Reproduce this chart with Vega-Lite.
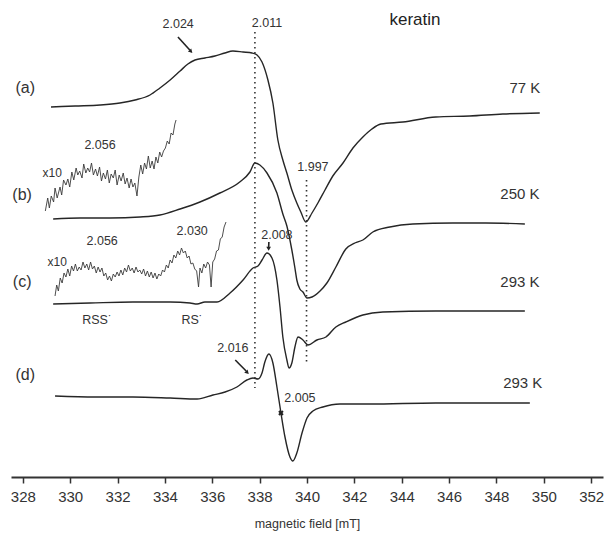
{
  "$schema": "https://vega.github.io/schema/vega-lite/v6.json",
  "width": 592,
  "height": 477,
  "autosize": {"type": "none"},
  "padding": {"left": 11, "top": 0, "right": 3, "bottom": 58},
  "background": "white",
  "config": {"view": {"stroke": null}, "font": "Liberation Sans"},
  "datasets": {
    "spectra": [
      {"B": 329.19, "signal": 37.0, "trace": "a"},
      {"B": 330.21, "signal": 37.1, "trace": "a"},
      {"B": 331.26, "signal": 37.2, "trace": "a"},
      {"B": 332.10, "signal": 37.4, "trace": "a"},
      {"B": 332.74, "signal": 37.7, "trace": "a"},
      {"B": 333.37, "signal": 38.2, "trace": "a"},
      {"B": 333.79, "signal": 38.9, "trace": "a"},
      {"B": 334.22, "signal": 39.7, "trace": "a"},
      {"B": 334.64, "signal": 40.6, "trace": "a"},
      {"B": 334.97, "signal": 41.3, "trace": "a"},
      {"B": 335.27, "signal": 41.7, "trace": "a"},
      {"B": 335.69, "signal": 41.9, "trace": "a"},
      {"B": 336.11, "signal": 42.1, "trace": "a"},
      {"B": 336.53, "signal": 42.4, "trace": "a"},
      {"B": 336.87, "signal": 42.6, "trace": "a"},
      {"B": 337.30, "signal": 42.5, "trace": "a"},
      {"B": 337.68, "signal": 42.4, "trace": "a"},
      {"B": 337.89, "signal": 42.2, "trace": "a"},
      {"B": 338.10, "signal": 41.5, "trace": "a"},
      {"B": 338.35, "signal": 39.7, "trace": "a"},
      {"B": 338.56, "signal": 37.4, "trace": "a"},
      {"B": 338.77, "signal": 33.7, "trace": "a"},
      {"B": 338.98, "signal": 31.7, "trace": "a"},
      {"B": 339.15, "signal": 30.4, "trace": "a"},
      {"B": 339.36, "signal": 28.7, "trace": "a"},
      {"B": 339.57, "signal": 27.4, "trace": "a"},
      {"B": 339.74, "signal": 26.5, "trace": "a"},
      {"B": 339.95, "signal": 25.5, "trace": "a"},
      {"B": 340.21, "signal": 26.4, "trace": "a"},
      {"B": 340.46, "signal": 27.4, "trace": "a"},
      {"B": 340.76, "signal": 28.7, "trace": "a"},
      {"B": 341.09, "signal": 30.1, "trace": "a"},
      {"B": 341.52, "signal": 31.4, "trace": "a"},
      {"B": 341.94, "signal": 32.9, "trace": "a"},
      {"B": 342.36, "signal": 34.0, "trace": "a"},
      {"B": 342.74, "signal": 34.8, "trace": "a"},
      {"B": 343.12, "signal": 35.3, "trace": "a"},
      {"B": 344.05, "signal": 35.5, "trace": "a"},
      {"B": 345.44, "signal": 36.0, "trace": "a"},
      {"B": 346.87, "signal": 36.1, "trace": "a"},
      {"B": 348.27, "signal": 36.3, "trace": "a"},
      {"B": 349.83, "signal": 36.4, "trace": "a"},

      {"B": 329.28, "signal": 25.8, "trace": "b"},
      {"B": 330.42, "signal": 25.9, "trace": "b"},
      {"B": 331.68, "signal": 25.9, "trace": "b"},
      {"B": 332.95, "signal": 26.0, "trace": "b"},
      {"B": 333.79, "signal": 26.2, "trace": "b"},
      {"B": 334.64, "signal": 26.8, "trace": "b"},
      {"B": 335.48, "signal": 27.5, "trace": "b"},
      {"B": 336.32, "signal": 28.4, "trace": "b"},
      {"B": 337.16, "signal": 29.5, "trace": "b"},
      {"B": 337.59, "signal": 30.5, "trace": "b"},
      {"B": 337.80, "signal": 31.4, "trace": "b"},
      {"B": 338.01, "signal": 31.2, "trace": "b"},
      {"B": 338.31, "signal": 30.4, "trace": "b"},
      {"B": 338.73, "signal": 28.4, "trace": "b"},
      {"B": 338.98, "signal": 26.3, "trace": "b"},
      {"B": 339.15, "signal": 25.1, "trace": "b"},
      {"B": 339.36, "signal": 22.7, "trace": "b"},
      {"B": 339.49, "signal": 20.9, "trace": "b"},
      {"B": 339.57, "signal": 19.7, "trace": "b"},
      {"B": 339.70, "signal": 18.8, "trace": "b"},
      {"B": 339.83, "signal": 18.5, "trace": "b"},
      {"B": 340.00, "signal": 17.9, "trace": "b"},
      {"B": 340.21, "signal": 18.0, "trace": "b"},
      {"B": 340.55, "signal": 18.6, "trace": "b"},
      {"B": 340.84, "signal": 19.4, "trace": "b"},
      {"B": 341.22, "signal": 21.0, "trace": "b"},
      {"B": 341.64, "signal": 22.8, "trace": "b"},
      {"B": 342.02, "signal": 23.4, "trace": "b"},
      {"B": 342.36, "signal": 23.7, "trace": "b"},
      {"B": 342.78, "signal": 24.5, "trace": "b"},
      {"B": 343.50, "signal": 25.0, "trace": "b"},
      {"B": 344.47, "signal": 25.3, "trace": "b"},
      {"B": 346.16, "signal": 25.4, "trace": "b"},
      {"B": 347.55, "signal": 25.4, "trace": "b"},
      {"B": 349.20, "signal": 25.3, "trace": "b"},

      {"B": 329.28, "signal": 17.3, "trace": "c"},
      {"B": 330.84, "signal": 17.4, "trace": "c"},
      {"B": 332.65, "signal": 17.5, "trace": "c"},
      {"B": 334.22, "signal": 17.5, "trace": "c"},
      {"B": 335.06, "signal": 17.4, "trace": "c"},
      {"B": 335.36, "signal": 17.3, "trace": "c"},
      {"B": 335.69, "signal": 17.5, "trace": "c"},
      {"B": 336.20, "signal": 17.5, "trace": "c"},
      {"B": 336.75, "signal": 18.4, "trace": "c"},
      {"B": 337.30, "signal": 19.7, "trace": "c"},
      {"B": 337.72, "signal": 20.9, "trace": "c"},
      {"B": 337.93, "signal": 21.1, "trace": "c"},
      {"B": 338.10, "signal": 21.7, "trace": "c"},
      {"B": 338.31, "signal": 22.4, "trace": "c"},
      {"B": 338.52, "signal": 21.9, "trace": "c"},
      {"B": 338.73, "signal": 19.7, "trace": "c"},
      {"B": 338.86, "signal": 17.0, "trace": "c"},
      {"B": 338.98, "signal": 14.0, "trace": "c"},
      {"B": 339.15, "signal": 11.7, "trace": "c"},
      {"B": 339.24, "signal": 10.9, "trace": "c"},
      {"B": 339.36, "signal": 11.4, "trace": "c"},
      {"B": 339.49, "signal": 13.0, "trace": "c"},
      {"B": 339.62, "signal": 14.0, "trace": "c"},
      {"B": 339.83, "signal": 13.7, "trace": "c"},
      {"B": 340.04, "signal": 13.2, "trace": "c"},
      {"B": 340.42, "signal": 13.7, "trace": "c"},
      {"B": 340.80, "signal": 14.0, "trace": "c"},
      {"B": 341.22, "signal": 15.0, "trace": "c"},
      {"B": 341.64, "signal": 15.5, "trace": "c"},
      {"B": 342.36, "signal": 16.2, "trace": "c"},
      {"B": 343.20, "signal": 16.5, "trace": "c"},
      {"B": 345.44, "signal": 16.6, "trace": "c"},
      {"B": 347.55, "signal": 16.6, "trace": "c"},
      {"B": 349.20, "signal": 16.6, "trace": "c"},

      {"B": 329.36, "signal": 8.1, "trace": "d"},
      {"B": 331.05, "signal": 8.0, "trace": "d"},
      {"B": 332.65, "signal": 8.0, "trace": "d"},
      {"B": 334.22, "signal": 7.9, "trace": "d"},
      {"B": 335.36, "signal": 7.8, "trace": "d"},
      {"B": 336.03, "signal": 8.2, "trace": "d"},
      {"B": 336.54, "signal": 8.5, "trace": "d"},
      {"B": 337.04, "signal": 9.0, "trace": "d"},
      {"B": 337.46, "signal": 9.7, "trace": "d"},
      {"B": 337.72, "signal": 9.9, "trace": "d"},
      {"B": 337.93, "signal": 9.8, "trace": "d"},
      {"B": 338.10, "signal": 10.4, "trace": "d"},
      {"B": 338.22, "signal": 11.5, "trace": "d"},
      {"B": 338.39, "signal": 12.3, "trace": "d"},
      {"B": 338.56, "signal": 11.4, "trace": "d"},
      {"B": 338.73, "signal": 9.0, "trace": "d"},
      {"B": 338.90, "signal": 6.4, "trace": "d"},
      {"B": 339.07, "signal": 4.0, "trace": "d"},
      {"B": 339.28, "signal": 2.0, "trace": "d"},
      {"B": 339.40, "signal": 1.6, "trace": "d"},
      {"B": 339.57, "signal": 2.4, "trace": "d"},
      {"B": 339.79, "signal": 4.4, "trace": "d"},
      {"B": 340.00, "signal": 5.9, "trace": "d"},
      {"B": 340.25, "signal": 6.6, "trace": "d"},
      {"B": 340.67, "signal": 7.0, "trace": "d"},
      {"B": 341.39, "signal": 7.3, "trace": "d"},
      {"B": 342.66, "signal": 7.3, "trace": "d"},
      {"B": 345.44, "signal": 7.4, "trace": "d"},
      {"B": 349.41, "signal": 7.4, "trace": "d"}
    ],
    "insets": [
      {"B": 328.95, "signal": 26.6, "trace": "b x10"},
      {"B": 329.05, "signal": 27.9, "trace": "b x10"},
      {"B": 329.12, "signal": 26.9, "trace": "b x10"},
      {"B": 329.2, "signal": 28.1, "trace": "b x10"},
      {"B": 329.3, "signal": 27.5, "trace": "b x10"},
      {"B": 329.36, "signal": 28.9, "trace": "b x10"},
      {"B": 329.45, "signal": 27.9, "trace": "b x10"},
      {"B": 329.57, "signal": 29.0, "trace": "b x10"},
      {"B": 329.64, "signal": 28.2, "trace": "b x10"},
      {"B": 329.72, "signal": 29.7, "trace": "b x10"},
      {"B": 329.82, "signal": 29.2, "trace": "b x10"},
      {"B": 329.9, "signal": 29.8, "trace": "b x10"},
      {"B": 329.98, "signal": 29.0, "trace": "b x10"},
      {"B": 330.07, "signal": 30.5, "trace": "b x10"},
      {"B": 330.15, "signal": 29.7, "trace": "b x10"},
      {"B": 330.25, "signal": 30.9, "trace": "b x10"},
      {"B": 330.32, "signal": 30.2, "trace": "b x10"},
      {"B": 330.4, "signal": 30.6, "trace": "b x10"},
      {"B": 330.5, "signal": 29.9, "trace": "b x10"},
      {"B": 330.57, "signal": 31.3, "trace": "b x10"},
      {"B": 330.66, "signal": 30.4, "trace": "b x10"},
      {"B": 330.74, "signal": 30.9, "trace": "b x10"},
      {"B": 330.82, "signal": 30.5, "trace": "b x10"},
      {"B": 330.9, "signal": 31.4, "trace": "b x10"},
      {"B": 330.98, "signal": 30.2, "trace": "b x10"},
      {"B": 331.07, "signal": 30.8, "trace": "b x10"},
      {"B": 331.15, "signal": 30.1, "trace": "b x10"},
      {"B": 331.24, "signal": 31.0, "trace": "b x10"},
      {"B": 331.32, "signal": 29.6, "trace": "b x10"},
      {"B": 331.4, "signal": 30.4, "trace": "b x10"},
      {"B": 331.49, "signal": 29.8, "trace": "b x10"},
      {"B": 331.57, "signal": 30.7, "trace": "b x10"},
      {"B": 331.65, "signal": 29.4, "trace": "b x10"},
      {"B": 331.73, "signal": 30.3, "trace": "b x10"},
      {"B": 331.82, "signal": 29.9, "trace": "b x10"},
      {"B": 331.9, "signal": 30.7, "trace": "b x10"},
      {"B": 331.98, "signal": 29.2, "trace": "b x10"},
      {"B": 332.07, "signal": 30.2, "trace": "b x10"},
      {"B": 332.15, "signal": 29.6, "trace": "b x10"},
      {"B": 332.24, "signal": 30.4, "trace": "b x10"},
      {"B": 332.32, "signal": 29.3, "trace": "b x10"},
      {"B": 332.4, "signal": 29.9, "trace": "b x10"},
      {"B": 332.49, "signal": 28.9, "trace": "b x10"},
      {"B": 332.57, "signal": 29.8, "trace": "b x10"},
      {"B": 332.65, "signal": 29.0, "trace": "b x10"},
      {"B": 332.73, "signal": 29.4, "trace": "b x10"},
      {"B": 332.82, "signal": 28.1, "trace": "b x10"},
      {"B": 332.9, "signal": 30.0, "trace": "b x10"},
      {"B": 332.98, "signal": 31.2, "trace": "b x10"},
      {"B": 333.06, "signal": 30.3, "trace": "b x10"},
      {"B": 333.14, "signal": 31.4, "trace": "b x10"},
      {"B": 333.22, "signal": 30.8, "trace": "b x10"},
      {"B": 333.3, "signal": 32.1, "trace": "b x10"},
      {"B": 333.38, "signal": 30.9, "trace": "b x10"},
      {"B": 333.46, "signal": 31.6, "trace": "b x10"},
      {"B": 333.54, "signal": 30.8, "trace": "b x10"},
      {"B": 333.62, "signal": 32.0, "trace": "b x10"},
      {"B": 333.7, "signal": 31.4, "trace": "b x10"},
      {"B": 333.78, "signal": 32.5, "trace": "b x10"},
      {"B": 333.86, "signal": 32.0, "trace": "b x10"},
      {"B": 333.94, "signal": 32.6, "trace": "b x10"},
      {"B": 334.02, "signal": 32.9, "trace": "b x10"},
      {"B": 334.1, "signal": 33.6, "trace": "b x10"},
      {"B": 334.18, "signal": 33.3, "trace": "b x10"},
      {"B": 334.26, "signal": 34.4, "trace": "b x10"},
      {"B": 334.34, "signal": 34.2, "trace": "b x10"},
      {"B": 334.42, "signal": 35.3, "trace": "b x10"},
      {"B": 334.47, "signal": 35.7, "trace": "b x10"},

      {"B": 329.36, "signal": 18.1, "trace": "c x10"},
      {"B": 329.43, "signal": 19.2, "trace": "c x10"},
      {"B": 329.5, "signal": 18.6, "trace": "c x10"},
      {"B": 329.58, "signal": 19.9, "trace": "c x10"},
      {"B": 329.66, "signal": 19.4, "trace": "c x10"},
      {"B": 329.74, "signal": 20.4, "trace": "c x10"},
      {"B": 329.82, "signal": 20.0, "trace": "c x10"},
      {"B": 329.9, "signal": 20.8, "trace": "c x10"},
      {"B": 329.98, "signal": 20.1, "trace": "c x10"},
      {"B": 330.06, "signal": 21.1, "trace": "c x10"},
      {"B": 330.14, "signal": 20.6, "trace": "c x10"},
      {"B": 330.22, "signal": 21.3, "trace": "c x10"},
      {"B": 330.3, "signal": 20.6, "trace": "c x10"},
      {"B": 330.38, "signal": 21.0, "trace": "c x10"},
      {"B": 330.46, "signal": 20.7, "trace": "c x10"},
      {"B": 330.54, "signal": 21.5, "trace": "c x10"},
      {"B": 330.62, "signal": 20.9, "trace": "c x10"},
      {"B": 330.7, "signal": 21.3, "trace": "c x10"},
      {"B": 330.78, "signal": 20.7, "trace": "c x10"},
      {"B": 330.86, "signal": 21.5, "trace": "c x10"},
      {"B": 330.94, "signal": 20.8, "trace": "c x10"},
      {"B": 331.02, "signal": 21.1, "trace": "c x10"},
      {"B": 331.1, "signal": 20.4, "trace": "c x10"},
      {"B": 331.18, "signal": 21.0, "trace": "c x10"},
      {"B": 331.26, "signal": 20.5, "trace": "c x10"},
      {"B": 331.34, "signal": 20.9, "trace": "c x10"},
      {"B": 331.42, "signal": 20.1, "trace": "c x10"},
      {"B": 331.5, "signal": 20.4, "trace": "c x10"},
      {"B": 331.58, "signal": 19.7, "trace": "c x10"},
      {"B": 331.66, "signal": 20.1, "trace": "c x10"},
      {"B": 331.74, "signal": 19.6, "trace": "c x10"},
      {"B": 331.82, "signal": 20.3, "trace": "c x10"},
      {"B": 331.9, "signal": 20.0, "trace": "c x10"},
      {"B": 331.98, "signal": 20.5, "trace": "c x10"},
      {"B": 332.06, "signal": 20.1, "trace": "c x10"},
      {"B": 332.14, "signal": 20.7, "trace": "c x10"},
      {"B": 332.22, "signal": 20.2, "trace": "c x10"},
      {"B": 332.3, "signal": 20.9, "trace": "c x10"},
      {"B": 332.38, "signal": 20.5, "trace": "c x10"},
      {"B": 332.46, "signal": 21.2, "trace": "c x10"},
      {"B": 332.54, "signal": 20.6, "trace": "c x10"},
      {"B": 332.62, "signal": 20.9, "trace": "c x10"},
      {"B": 332.7, "signal": 20.4, "trace": "c x10"},
      {"B": 332.78, "signal": 21.0, "trace": "c x10"},
      {"B": 332.86, "signal": 20.5, "trace": "c x10"},
      {"B": 332.94, "signal": 20.7, "trace": "c x10"},
      {"B": 333.02, "signal": 20.3, "trace": "c x10"},
      {"B": 333.1, "signal": 20.8, "trace": "c x10"},
      {"B": 333.18, "signal": 20.1, "trace": "c x10"},
      {"B": 333.26, "signal": 20.6, "trace": "c x10"},
      {"B": 333.34, "signal": 20.0, "trace": "c x10"},
      {"B": 333.42, "signal": 20.5, "trace": "c x10"},
      {"B": 333.5, "signal": 19.9, "trace": "c x10"},
      {"B": 333.58, "signal": 20.4, "trace": "c x10"},
      {"B": 333.66, "signal": 19.8, "trace": "c x10"},
      {"B": 333.74, "signal": 20.3, "trace": "c x10"},
      {"B": 333.82, "signal": 20.1, "trace": "c x10"},
      {"B": 333.9, "signal": 20.7, "trace": "c x10"},
      {"B": 333.98, "signal": 20.5, "trace": "c x10"},
      {"B": 334.06, "signal": 21.2, "trace": "c x10"},
      {"B": 334.14, "signal": 20.9, "trace": "c x10"},
      {"B": 334.22, "signal": 21.7, "trace": "c x10"},
      {"B": 334.3, "signal": 21.4, "trace": "c x10"},
      {"B": 334.38, "signal": 22.2, "trace": "c x10"},
      {"B": 334.46, "signal": 21.9, "trace": "c x10"},
      {"B": 334.54, "signal": 22.6, "trace": "c x10"},
      {"B": 334.62, "signal": 22.2, "trace": "c x10"},
      {"B": 334.7, "signal": 22.9, "trace": "c x10"},
      {"B": 334.78, "signal": 22.4, "trace": "c x10"},
      {"B": 334.86, "signal": 22.6, "trace": "c x10"},
      {"B": 334.94, "signal": 21.9, "trace": "c x10"},
      {"B": 335.02, "signal": 22.1, "trace": "c x10"},
      {"B": 335.1, "signal": 21.3, "trace": "c x10"},
      {"B": 335.18, "signal": 21.4, "trace": "c x10"},
      {"B": 335.26, "signal": 20.8, "trace": "c x10"},
      {"B": 335.34, "signal": 20.6, "trace": "c x10"},
      {"B": 335.42, "signal": 19.0, "trace": "c x10"},
      {"B": 335.48, "signal": 20.9, "trace": "c x10"},
      {"B": 335.56, "signal": 20.4, "trace": "c x10"},
      {"B": 335.64, "signal": 21.3, "trace": "c x10"},
      {"B": 335.72, "signal": 20.9, "trace": "c x10"},
      {"B": 335.8, "signal": 21.5, "trace": "c x10"},
      {"B": 335.88, "signal": 21.2, "trace": "c x10"},
      {"B": 335.95, "signal": 19.0, "trace": "c x10"},
      {"B": 336.02, "signal": 21.5, "trace": "c x10"},
      {"B": 336.1, "signal": 21.8, "trace": "c x10"},
      {"B": 336.18, "signal": 22.6, "trace": "c x10"},
      {"B": 336.26, "signal": 22.7, "trace": "c x10"},
      {"B": 336.34, "signal": 23.8, "trace": "c x10"},
      {"B": 336.42, "signal": 24.0, "trace": "c x10"},
      {"B": 336.5, "signal": 25.0, "trace": "c x10"},
      {"B": 336.58, "signal": 25.5, "trace": "c x10"}
    ]
  },
  "resolve": {"scale": {"x": "shared", "y": "shared"}},
  "layer": [
    {
      "data": {"name": "spectra"},
      "mark": {"type": "line", "color": "#262626", "strokeWidth": 1.4, "interpolate": "monotone"},
      "encoding": {
        "x": {
          "field": "B", "type": "quantitative",
          "scale": {"domain": [327.5, 352.5], "nice": false, "zero": false},
          "axis": {
            "values": [328,329,330,331,332,333,334,335,336,337,338,339,340,341,342,343,344,345,346,347,348,349,350,351,352],
            "labelExpr": "datum.value % 2 === 0 ? datum.label : ''",
            "tickSize": {"condition": {"test": "datum.value % 2 === 0", "value": 6}, "value": 3},
            "title": "magnetic field [mT]",
            "grid": false,
            "labelFont": "Liberation Sans", "labelFontSize": 15, "labelColor": "#333",
            "labelPadding": 6, "labelFlush": false, "labelOverlap": false, "labelBound": false,
            "domainColor": "#333", "domainWidth": 2,
            "tickColor": "#333", "tickWidth": 1.5,
            "titleFont": "Liberation Sans", "titleFontSize": 12.5, "titleFontWeight": "normal",
            "titleColor": "#333", "titlePadding": 13
          }
        },
        "y": {"field": "signal", "type": "quantitative", "scale": {"domain": [0, 47.7], "nice": false, "zero": false}, "axis": null},
        "detail": {"field": "trace"},
        "order": {"field": "B"}
      }
    },
    {
      "data": {"name": "insets"},
      "mark": {"type": "line", "color": "#3a3a3a", "strokeWidth": 0.9},
      "encoding": {
        "x": {"field": "B", "type": "quantitative"},
        "y": {"field": "signal", "type": "quantitative"},
        "detail": {"field": "trace"},
        "order": {"field": "B"}
      }
    },
    {
      "data": {"values": [
        {"B": 337.8, "top": 44.5, "bottom": 8.9},
        {"B": 339.98, "top": 29.7, "bottom": 11.4}
      ]},
      "mark": {"type": "rule", "color": "#333", "strokeWidth": 1.6, "strokeDash": [1.5, 3.5]},
      "encoding": {
        "x": {"field": "B", "type": "quantitative"},
        "y": {"field": "top", "type": "quantitative"},
        "y2": {"field": "bottom"}
      }
    },
    {
      "data": {"values": [
        {"B": 334.55, "B2": 335.05, "s": 44.0, "s2": 42.7},
        {"B": 338.39, "B2": 338.38, "s": 23.5, "s2": 23.0},
        {"B": 336.97, "B2": 337.43, "s": 11.7, "s2": 10.6}
      ]},
      "mark": {"type": "rule", "color": "#222", "strokeWidth": 1.6},
      "encoding": {
        "x": {"field": "B", "type": "quantitative"},
        "x2": {"field": "B2"},
        "y": {"field": "s", "type": "quantitative"},
        "y2": {"field": "s2"}
      }
    },
    {
      "data": {"values": [
        {"B": 335.08, "signal": 42.6, "dir": 137},
        {"B": 338.38, "signal": 22.9, "dir": 180},
        {"B": 337.46, "signal": 10.5, "dir": 135}
      ]},
      "mark": {"type": "point", "shape": "triangle", "filled": true, "color": "#222", "size": 22, "opacity": 1},
      "encoding": {
        "x": {"field": "B", "type": "quantitative"},
        "y": {"field": "signal", "type": "quantitative"},
        "angle": {"field": "dir", "type": "quantitative", "scale": null}
      }
    },
    {
      "data": {"values": [{"B": 338.90, "signal": 6.4}]},
      "mark": {"type": "point", "shape": "cross", "angle": 45, "filled": true, "color": "#222", "size": 30, "opacity": 1},
      "encoding": {
        "x": {"field": "B", "type": "quantitative"},
        "y": {"field": "signal", "type": "quantitative"}
      }
    },
    {
      "data": {"values": [
        {"B": 328.10, "signal": 38.9, "label": "(a)"},
        {"B": 327.97, "signal": 28.2, "label": "(b)"},
        {"B": 327.97, "signal": 19.5, "label": "(c)"},
        {"B": 328.10, "signal": 10.2, "label": "(d)"}
      ]},
      "mark": {"type": "text", "fontSize": 16, "font": "Liberation Sans", "color": "#333", "align": "center", "baseline": "middle"},
      "encoding": {
        "x": {"field": "B", "type": "quantitative"},
        "y": {"field": "signal", "type": "quantitative"},
        "text": {"field": "label"}
      }
    },
    {
      "data": {"values": [{"B": 344.56, "signal": 45.7, "label": "keratin"}]},
      "mark": {"type": "text", "fontSize": 17, "font": "Liberation Sans", "color": "#222", "align": "center", "baseline": "middle"},
      "encoding": {
        "x": {"field": "B", "type": "quantitative"},
        "y": {"field": "signal", "type": "quantitative"},
        "text": {"field": "label"}
      }
    },
    {
      "data": {"values": [
        {"B": 349.20, "signal": 38.9, "label": "77 K"},
        {"B": 348.99, "signal": 28.3, "label": "250 K"},
        {"B": 348.99, "signal": 19.5, "label": "293 K"},
        {"B": 349.11, "signal": 9.4, "label": "293 K"}
      ]},
      "mark": {"type": "text", "fontSize": 15, "font": "Liberation Sans", "color": "#333", "align": "center", "baseline": "middle"},
      "encoding": {
        "x": {"field": "B", "type": "quantitative"},
        "y": {"field": "signal", "type": "quantitative"},
        "text": {"field": "label"}
      }
    },
    {
      "data": {"values": [
        {"B": 334.56, "signal": 45.3, "label": "2.024"},
        {"B": 338.31, "signal": 45.4, "label": "2.011"},
        {"B": 331.26, "signal": 33.2, "label": "2.056"},
        {"B": 331.35, "signal": 23.6, "label": "2.056"},
        {"B": 335.15, "signal": 24.6, "label": "2.030"},
        {"B": 340.25, "signal": 31.0, "label": "1.997"},
        {"B": 338.73, "signal": 24.2, "label": "2.008"},
        {"B": 336.87, "signal": 12.9, "label": "2.016"},
        {"B": 339.70, "signal": 7.9, "label": "2.005"},
        {"B": 331.14, "signal": 15.7, "label": "RSS˙"},
        {"B": 335.15, "signal": 15.7, "label": "RS˙"}
      ]},
      "mark": {"type": "text", "fontSize": 12.5, "font": "Liberation Sans", "color": "#333", "align": "center", "baseline": "middle"},
      "encoding": {
        "x": {"field": "B", "type": "quantitative"},
        "y": {"field": "signal", "type": "quantitative"},
        "text": {"field": "label"}
      }
    },
    {
      "data": {"values": [
        {"B": 329.24, "signal": 30.4, "label": "x10"},
        {"B": 329.45, "signal": 21.5, "label": "x10"}
      ]},
      "mark": {"type": "text", "fontSize": 12, "font": "Liberation Sans", "color": "#333", "align": "center", "baseline": "middle"},
      "encoding": {
        "x": {"field": "B", "type": "quantitative"},
        "y": {"field": "signal", "type": "quantitative"},
        "text": {"field": "label"}
      }
    }
  ]
}
